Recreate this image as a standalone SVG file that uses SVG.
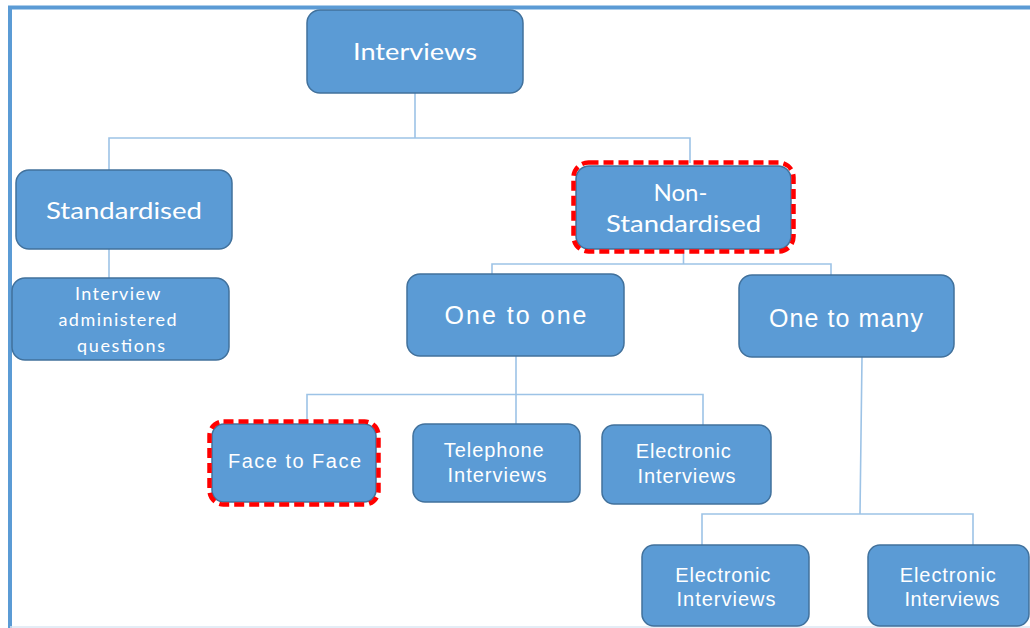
<svg xmlns="http://www.w3.org/2000/svg" width="1030" height="628" viewBox="0 0 1030 628">
  <defs>
    <style>
      .box { fill: #5b9bd5; stroke: #41719c; stroke-width: 1.5; }
      .hl { fill: none; stroke: #ff0000; stroke-width: 4.5; stroke-dasharray: 10 5; }
      .link { fill: none; stroke: #9dc3e6; stroke-width: 1.6; }
      .frame { fill: none; stroke: #5b9bd5; stroke-width: 4; }
      .cal { font-family: Lato, "Open Sans", sans-serif; fill: #ffffff; text-anchor: middle; }
      .ari { font-family: "Liberation Sans", Arial, sans-serif; fill: #ffffff; text-anchor: middle; }
    </style>
  </defs>

  <rect width="1030" height="628" fill="#ffffff"/>

  <!-- outer frame -->
  <g id="frame">
    <path class="frame" d="M10 628 V7.5 H1032"/>
    <line x1="10" y1="627" x2="1030" y2="627" stroke="#dbe7f3" stroke-width="1.5"/>
  </g>

  <!-- connectors -->
  <g id="connectors">
    <path class="link" d="M415 93 V138 M109 170 V138 H690 V163"/>
    <path class="link" d="M109 249 V278"/>
    <path class="link" d="M683.5 250 V264 M492 274 V264 H831 V275"/>
    <path class="link" d="M516 356 V424 M307 422 V394.5 H703 V425"/>
    <path class="link" d="M862 357 L860 514 M702 545 V514 H973 V545"/>
  </g>

  <g id="node-interviews">
    <rect class="box" x="307" y="10" width="216" height="83" rx="13"/>
    <text class="cal" x="415" y="60" font-size="24" textLength="124" lengthAdjust="spacingAndGlyphs">Interviews</text>
  </g>

  <g id="node-standardised">
    <rect class="box" x="16" y="170" width="216" height="79" rx="13"/>
    <text class="cal" x="124" y="219" font-size="24" textLength="156" lengthAdjust="spacingAndGlyphs">Standardised</text>
  </g>

  <g id="node-interview-administered">
    <rect class="box" x="12" y="278" width="217" height="82" rx="13"/>
    <text class="cal" font-size="18">
      <tspan x="120.5" y="300" textLength="85" lengthAdjust="spacing">Interview</tspan>
      <tspan x="120.5" y="326" textLength="118" lengthAdjust="spacing">administered</tspan>
      <tspan x="121" y="352" textLength="88" lengthAdjust="spacing">questions</tspan>
    </text>
  </g>

  <g id="node-non-standardised">
    <rect class="box" x="576" y="166" width="215" height="83" rx="13"/>
    <rect class="hl" x="573.5" y="162.5" width="220" height="89" rx="15"/>
    <text class="cal" font-size="24">
      <tspan x="683.5" y="201">Non-</tspan>
      <tspan x="683.5" y="232" textLength="155" lengthAdjust="spacingAndGlyphs">Standardised</tspan>
    </text>
  </g>

  <g id="node-one-to-one">
    <rect class="box" x="407" y="274" width="217" height="82" rx="13"/>
    <text class="ari" x="515.5" y="324" font-size="25" textLength="142" lengthAdjust="spacing">One to one</text>
  </g>

  <g id="node-one-to-many">
    <rect class="box" x="739" y="275" width="215" height="82" rx="13"/>
    <text class="ari" x="846" y="327" font-size="25" textLength="154" lengthAdjust="spacing">One to many</text>
  </g>

  <g id="node-face-to-face">
    <rect class="box" x="212" y="424" width="164" height="78" rx="12"/>
    <rect class="hl" x="209.5" y="421.5" width="169" height="83" rx="14"/>
    <text class="ari" x="294.5" y="468" font-size="20" textLength="133" lengthAdjust="spacing">Face to Face</text>
  </g>

  <g id="node-telephone">
    <rect class="box" x="413" y="424" width="167" height="78" rx="12"/>
    <text class="ari" font-size="20">
      <tspan x="497" y="457" textLength="100" lengthAdjust="spacing">Telephone</tspan>
      <tspan x="497" y="482" textLength="99" lengthAdjust="spacing">Interviews</tspan>
    </text>
  </g>

  <g id="node-electronic-1">
    <rect class="box" x="602" y="425" width="169" height="79" rx="12"/>
    <text class="ari" font-size="20">
      <tspan x="686.5" y="458" textLength="95" lengthAdjust="spacing">Electronic</tspan>
      <tspan x="686.5" y="483" textLength="98" lengthAdjust="spacing">Interviews</tspan>
    </text>
  </g>

  <g id="node-electronic-2">
    <rect class="box" x="642" y="545" width="167" height="81" rx="12"/>
    <text class="ari" font-size="20">
      <tspan x="726" y="582" textLength="95" lengthAdjust="spacing">Electronic</tspan>
      <tspan x="726" y="606" textLength="99" lengthAdjust="spacing">Interviews</tspan>
    </text>
  </g>

  <g id="node-electronic-3">
    <rect class="box" x="868" y="545" width="161" height="81" rx="12"/>
    <text class="ari" font-size="20">
      <tspan x="951" y="582" textLength="96" lengthAdjust="spacing">Electronic</tspan>
      <tspan x="952" y="606" textLength="95" lengthAdjust="spacing">Interviews</tspan>
    </text>
  </g>
</svg>
